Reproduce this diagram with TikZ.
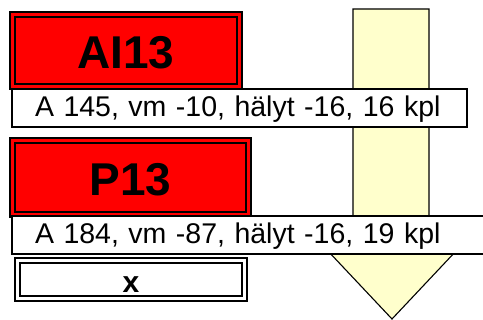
\documentclass[tikz,border=0pt]{standalone}
\usepackage{fontspec}
\setmainfont{Liberation Sans}
\usepackage{tikz}
\usetikzlibrary{positioning}
\definecolor{flowfill}{RGB}{255,255,204}

\begin{document}
\begin{tikzpicture}[
  x=1pt, y=-1pt,
  every node/.style={inner sep=0pt, outer sep=0pt},
  tagbox/.style={rectangle, draw, line width=1.8pt, double distance=3pt,
              font=\bfseries\fontsize{46}{50}\selectfont, text height=36pt, text depth=0pt},
  alarmbox/.style={tagbox, double=red, fill=red},
  emptybox/.style={tagbox, double=white, fill=white,
              font=\bfseries\fontsize{30}{34}\selectfont, text height=26.5pt},
  infobox/.style={rectangle, draw, line width=1.2pt, fill=white, anchor=north west,
              minimum height=38pt, inner xsep=23pt, align=left,
              text height=22pt, text depth=4pt,
              font=\fontsize{28.5}{32}\selectfont},
  flow/.style={draw=black, line width=1.1pt, fill=flowfill, line join=miter}
]
\useasboundingbox (0,0) rectangle (483,320);

% =======================================================
%                     FLOW ARROW
% =======================================================
\draw[flow] (353,9) -- (429,9) -- (429,216) -- (489,216) -- (392,319)
  -- (295,216) -- (353,216) -- cycle;

% =======================================================
%                     TAG BOXES
% =======================================================
\node[alarmbox, minimum width=227.4pt, minimum height=72.4pt] (ai13) at (126,50.5) {AI13};
\node[infobox, text width=409pt] (ai13info) at (12,89) {A 145, vm -10, hälyt -16, 16 kpl};

\node[alarmbox, minimum width=236.4pt, minimum height=74.4pt] (p13) at (130.5,177.5) {P13};
\node[infobox, text width=440pt] (p13info) at (12,216) {A 184, vm -87, hälyt -16, 19 kpl};

\node[emptybox, minimum width=227.4pt, minimum height=38.4pt] (xbox) at (131,279.5) {x};

\end{tikzpicture}
\end{document}
